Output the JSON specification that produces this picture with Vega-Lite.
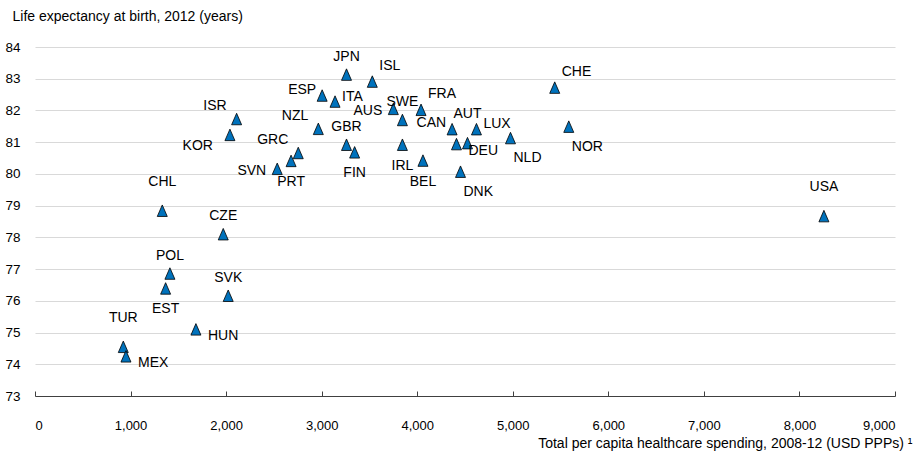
{
  "$schema": "https://vega.github.io/schema/vega-lite/v6.json",
  "width": 860,
  "height": 349,
  "autosize": {"type": "none"},
  "padding": {"left": 35, "top": 47, "right": 24, "bottom": 68},
  "background": "white",
  "config": {
    "view": {"stroke": null},
    "font": "Liberation Sans, Arial, sans-serif",
    "text": {"font": "Liberation Sans, Arial, sans-serif", "fontSize": 14, "color": "#000"}
  },
  "data": {
    "values": [
      {"country": "JPN", "spending": 3260, "life_expectancy": 83.13, "label_side": "N"},
      {"country": "ISL", "spending": 3530, "life_expectancy": 82.91, "label_side": "NE"},
      {"country": "ESP", "spending": 3005, "life_expectancy": 82.47, "label_side": "WNW"},
      {"country": "ITA", "spending": 3140, "life_expectancy": 82.28, "label_side": "ENE"},
      {"country": "ISR", "spending": 2110, "life_expectancy": 81.73, "label_side": "NW"},
      {"country": "KOR", "spending": 2040, "life_expectancy": 81.23, "label_side": "SW"},
      {"country": "NZL", "spending": 2965, "life_expectancy": 81.42, "label_side": "NW"},
      {"country": "GBR", "spending": 3260, "life_expectancy": 80.92, "label_side": "N"},
      {"country": "FIN", "spending": 3345, "life_expectancy": 80.68, "label_side": "S"},
      {"country": "GRC", "spending": 2755, "life_expectancy": 80.66, "label_side": "NW"},
      {"country": "PRT", "spending": 2680, "life_expectancy": 80.41, "label_side": "S"},
      {"country": "SVN", "spending": 2535, "life_expectancy": 80.16, "label_side": "W"},
      {"country": "AUS", "spending": 3750, "life_expectancy": 82.05, "label_side": "W"},
      {"country": "SWE", "spending": 3845, "life_expectancy": 81.70, "label_side": "N"},
      {"country": "FRA", "spending": 4040, "life_expectancy": 82.02, "label_side": "NE"},
      {"country": "CAN", "spending": 4365, "life_expectancy": 81.41, "label_side": "WNW"},
      {"country": "IRL", "spending": 3845, "life_expectancy": 80.92, "label_side": "S"},
      {"country": "BEL", "spending": 4060, "life_expectancy": 80.42, "label_side": "S"},
      {"country": "AUT", "spending": 4526, "life_expectancy": 80.97, "label_side": "N2"},
      {"country": "DEU", "spending": 4411, "life_expectancy": 80.94, "label_side": "ESE"},
      {"country": "LUX", "spending": 4620, "life_expectancy": 81.41, "label_side": "ENE"},
      {"country": "NLD", "spending": 4976, "life_expectancy": 81.13, "label_side": "SE"},
      {"country": "DNK", "spending": 4453, "life_expectancy": 80.07, "label_side": "SE"},
      {"country": "CHE", "spending": 5439, "life_expectancy": 82.72, "label_side": "NE"},
      {"country": "NOR", "spending": 5586, "life_expectancy": 81.49, "label_side": "SE"},
      {"country": "USA", "spending": 8256, "life_expectancy": 78.67, "label_side": "N2"},
      {"country": "CHL", "spending": 1332, "life_expectancy": 78.84, "label_side": "N2"},
      {"country": "CZE", "spending": 1970, "life_expectancy": 78.10, "label_side": "N"},
      {"country": "POL", "spending": 1412, "life_expectancy": 76.86, "label_side": "N"},
      {"country": "EST", "spending": 1367, "life_expectancy": 76.39, "label_side": "S"},
      {"country": "SVK", "spending": 2022, "life_expectancy": 76.16, "label_side": "N"},
      {"country": "HUN", "spending": 1684, "life_expectancy": 75.10, "label_side": "ESE"},
      {"country": "TUR", "spending": 924, "life_expectancy": 74.55, "label_side": "N2"},
      {"country": "MEX", "spending": 952, "life_expectancy": 74.25, "label_side": "ESE"}
    ]
  },
  "encoding": {
    "x": {
      "field": "spending",
      "type": "quantitative",
      "scale": {"domain": [0, 9000], "nice": false, "zero": false},
      "axis": {
        "values": [0, 1000, 2000, 3000, 4000, 5000, 6000, 7000, 8000, 9000],
        "format": ",.0f",
        "grid": false,
        "domainColor": "#404040",
        "tickColor": "#404040",
        "tickSize": -5,
        "labelPadding": 38,
        "labelBaseline": "alphabetic",
        "labelFontSize": 13,
        "labelColor": "#000",
        "title": "Total per capita healthcare spending, 2008-12 (USD PPPs) ¹",
        "titleFontSize": 14,
        "titleFontWeight": "normal",
        "titleColor": "#000",
        "titleAlign": "right",
        "titleBaseline": "alphabetic",
        "titleX": 877,
        "titleY": 51
      }
    },
    "y": {
      "field": "life_expectancy",
      "type": "quantitative",
      "scale": {"domain": [73, 84], "nice": false, "zero": false},
      "axis": {
        "values": [73, 74, 75, 76, 77, 78, 79, 80, 81, 82, 83, 84],
        "domain": false,
        "ticks": false,
        "gridColor": "#d9d9d9",
        "gridWidth": 1.2,
        "labelPadding": 15,
        "labelFontSize": 13.5,
        "labelColor": "#000",
        "title": "Life expectancy at birth, 2012 (years)",
        "titleFontSize": 14,
        "titleFontWeight": "normal",
        "titleColor": "#000",
        "titleAngle": 0,
        "titleAlign": "left",
        "titleBaseline": "alphabetic",
        "titleX": -23,
        "titleY": -27
      }
    }
  },
  "layer": [
    {
      "mark": {"type": "point", "shape": "M0,-1.15L1,1.15L-1,1.15Z", "size": 100, "filled": true, "fill": "#0072BC", "stroke": "#000", "strokeWidth": 0.8, "opacity": 1}
    },
    {
      "transform": [{"filter": "datum.label_side === 'N'"}],
      "mark": {"type": "text", "align": "center", "baseline": "middle", "dy": -18},
      "encoding": {"text": {"field": "country"}}
    },
    {
      "transform": [{"filter": "datum.label_side === 'N2'"}],
      "mark": {"type": "text", "align": "center", "baseline": "middle", "dy": -29},
      "encoding": {"text": {"field": "country"}}
    },
    {
      "transform": [{"filter": "datum.label_side === 'S'"}],
      "mark": {"type": "text", "align": "center", "baseline": "middle", "dy": 21},
      "encoding": {"text": {"field": "country"}}
    },
    {
      "transform": [{"filter": "datum.label_side === 'W'"}],
      "mark": {"type": "text", "align": "right", "baseline": "middle", "dx": -11, "dy": 2},
      "encoding": {"text": {"field": "country"}}
    },
    {
      "transform": [{"filter": "datum.label_side === 'WNW'"}],
      "mark": {"type": "text", "align": "right", "baseline": "middle", "dx": -6, "dy": -6},
      "encoding": {"text": {"field": "country"}}
    },
    {
      "transform": [{"filter": "datum.label_side === 'NW'"}],
      "mark": {"type": "text", "align": "right", "baseline": "middle", "dx": -10, "dy": -13},
      "encoding": {"text": {"field": "country"}}
    },
    {
      "transform": [{"filter": "datum.label_side === 'SW'"}],
      "mark": {"type": "text", "align": "right", "baseline": "middle", "dx": -17, "dy": 11},
      "encoding": {"text": {"field": "country"}}
    },
    {
      "transform": [{"filter": "datum.label_side === 'ESE'"}],
      "mark": {"type": "text", "align": "left", "baseline": "middle", "dx": 12, "dy": 7},
      "encoding": {"text": {"field": "country"}}
    },
    {
      "transform": [{"filter": "datum.label_side === 'ENE'"}],
      "mark": {"type": "text", "align": "left", "baseline": "middle", "dx": 7, "dy": -5},
      "encoding": {"text": {"field": "country"}}
    },
    {
      "transform": [{"filter": "datum.label_side === 'NE'"}],
      "mark": {"type": "text", "align": "left", "baseline": "middle", "dx": 7, "dy": -16},
      "encoding": {"text": {"field": "country"}}
    },
    {
      "transform": [{"filter": "datum.label_side === 'SE'"}],
      "mark": {"type": "text", "align": "left", "baseline": "middle", "dx": 3, "dy": 20},
      "encoding": {"text": {"field": "country"}}
    }
  ]
}
